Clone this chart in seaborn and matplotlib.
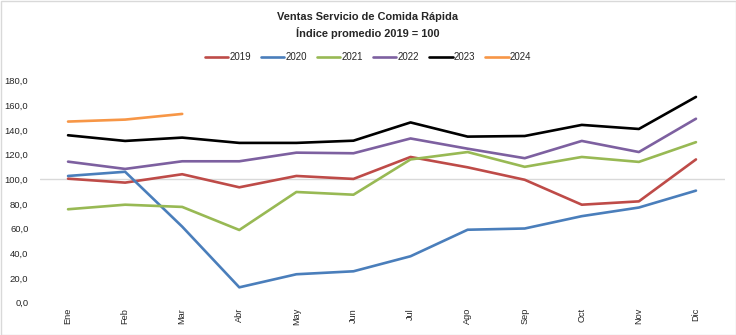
import numpy as np
import pandas as pd
import matplotlib
matplotlib.use("Agg")
import matplotlib.pyplot as plt
import seaborn as sns
from matplotlib.patches import Rectangle
from matplotlib.lines import Line2D

months = ["Ene", "Feb", "Mar", "Abr", "May", "Jun", "Jul", "Ago", "Sep", "Oct", "Nov", "Dic"]
v2019 = [100.4, 97.2, 104.0, 93.4, 102.6, 100.2, 118.0, 109.6, 99.5, 79.3, 82.0, 116.0]
v2020 = [102.6, 106.0, 61.5, 12.3, 22.9, 25.3, 37.5, 59.0, 60.0, 70.0, 77.0, 90.7]
v2021 = [75.6, 79.3, 77.5, 58.8, 89.6, 87.4, 116.0, 122.0, 110.0, 118.0, 114.0, 130.0]
v2022 = [114.2, 108.3, 114.5, 114.5, 121.5, 121.0, 133.0, 124.7, 117.0, 131.0, 122.0, 149.0]
v2023 = [135.6, 131.0, 133.7, 129.4, 129.4, 131.2, 146.0, 134.5, 135.0, 144.0, 140.7, 166.7]
v2024 = [146.7, 148.3, 152.9]
years = ["2019", "2020", "2021", "2022", "2023", "2024"]
colors = ["#BE4B48", "#4A7EBB", "#98B954", "#7D60A0", "#000000", "#F79646"]

series = [v2019, v2020, v2021, v2022, v2023, v2024]
rows = []
for y, vals in zip(years, series):
    for i, v in enumerate(vals):
        rows.append({"year": y, "mes": i, "valor": v})
df = pd.DataFrame(rows)

sns.set_style("white")
plt.rcParams["font.family"] = ["Liberation Sans", "DejaVu Sans"]

fig = plt.figure(figsize=(7.36, 3.35), dpi=100)
ax = fig.add_axes([39.5 / 736, 1 - 302.5 / 335, 685 / 736, 222 / 335])

ax.axhline(100, color="#D9D9D9", lw=1.0, zorder=0)
sns.lineplot(data=df, x="mes", y="valor", hue="year", palette=dict(zip(years, colors)),
             linewidth=1.9, ax=ax, legend=False, sort=False)

ax.set_xlim(-0.5, 11.5)
ax.set_ylim(0, 180)
ax.set_xticks(range(12))
ax.set_xticklabels(months, rotation=90, fontsize=6.6, va="top", ha="center")
ax.set_yticks(np.arange(0, 181, 20))
ax.set_yticklabels([f"{t:.1f}".replace(".", ",") for t in np.arange(0, 181, 20)], fontsize=6.8)
ax.tick_params(axis="both", length=0)
ax.tick_params(axis="y", pad=8)
ax.tick_params(axis="x", pad=4)
ax.set_xlabel("")
ax.set_ylabel("")
for s in ax.spines.values():
    s.set_visible(False)

fig.text(0.5, 1 - 17 / 335, "Ventas Servicio de Comida Rápida", ha="center", va="center",
         fontsize=7.9, fontweight="bold")
fig.text(0.5, 1 - 33 / 335, "Índice promedio 2019 = 100", ha="center", va="center",
         fontsize=7.9, fontweight="bold")

handles = [Line2D([0], [0], color=c, lw=1.9) for c in colors]
fig.legend(handles, years, loc="center", bbox_to_anchor=(0.5, 1 - 57 / 335), ncol=6,
           frameon=False, fontsize=7, handlelength=2.4, handletextpad=0.1, columnspacing=1.05)

fig.patches.append(Rectangle((0.5 / 736, 0.5 / 335), 735 / 736, 334 / 335, transform=fig.transFigure,
                             fill=False, edgecolor="#D9D9D9", lw=1.0))

fig.savefig("out.png", dpi=100)
